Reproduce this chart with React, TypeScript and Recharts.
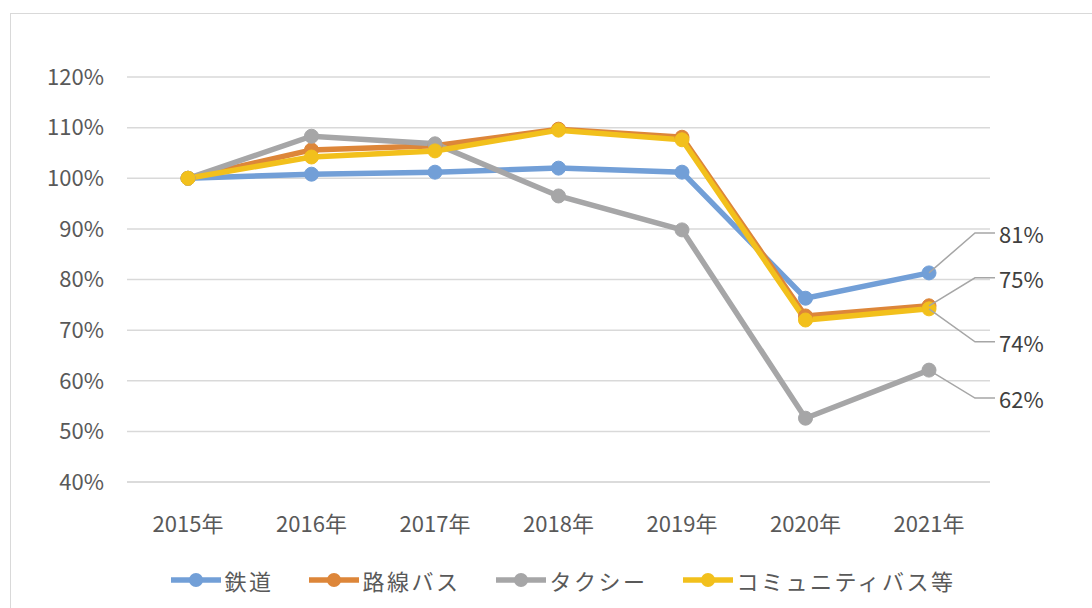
import { Line, LineChart, XAxis, YAxis, CartesianGrid, Legend } from "recharts"

const years = ["2015年", "2016年", "2017年", "2018年", "2019年", "2020年", "2021年"]
const rail = [100, 100.8, 101.2, 102.0, 101.2, 76.3, 81.3]
const routeBus = [100, 105.6, 106.4, 109.7, 108.1, 72.8, 74.8]
const taxi = [100, 108.3, 106.8, 96.5, 89.8, 52.6, 62.1]
const communityBus = [100, 104.2, 105.4, 109.5, 107.6, 72.0, 74.2]
const yTicks = [40, 50, 60, 70, 80, 90, 100, 110, 120]

const data = years.map((year, i) => ({
  year,
  rail: rail[i],
  routeBus: routeBus[i],
  taxi: taxi[i],
  communityBus: communityBus[i],
}))

const font = '"Noto Sans CJK JP", "Noto Sans", sans-serif'

// leader-line label for the last point of each series
function endLabel(dy: number) {
  return (props: any) => {
    const { x, y, value, index } = props
    if (index !== years.length - 1) return null
    const ex = x + 46
    const ey = y + dy
    return (
      <g>
        <polyline points={`${x},${y} ${ex},${ey} ${ex + 20},${ey}`} fill="none" stroke="#a6a6a6" strokeWidth={1.5} />
        <text x={ex + 24} y={ey} dominantBaseline="central" fontSize={22} fill="#404040" fontFamily={font}>
          {Math.round(value)}%
        </text>
      </g>
    )
  }
}

const series = [
  { key: "rail", name: "鉄道", color: "#729fd7", dy: -40 },
  { key: "routeBus", name: "路線バス", color: "#dd8639", dy: -28 },
  { key: "taxi", name: "タクシー", color: "#a6a6a7", dy: 28 },
  { key: "communityBus", name: "コミュニティバス等", color: "#f2c01c", dy: 33 },
]

function LegendBox() {
  return (
    <div style={{ display: "flex", justifyContent: "center", height: 30, alignItems: "center", fontFamily: font, paddingLeft: 127 }}>
      {series.map((s) => (
        <div key={s.key} style={{ display: "flex", alignItems: "center", margin: "0 18px" }}>
          <svg width={50} height={16}>
            <line x1={0} y1={8} x2={50} y2={8} stroke={s.color} strokeWidth={5.5} />
            <circle cx={25} cy={8} r={7} fill={s.color} />
          </svg>
          <span style={{ marginLeft: 3, fontSize: 22, color: "#595959", letterSpacing: 2.5 }}>{s.name}</span>
        </div>
      ))}
    </div>
  )
}

export default function App() {
  return (
    <div style={{ position: "absolute", left: 0, top: 0, width: 1092, height: 608, background: "#fff", overflow: "hidden" }}>
      <div style={{ position: "absolute", left: 10, top: 13, width: 1100, height: 620, border: "1.5px solid #d9d9d9" }} />
      <LineChart
        width={1092}
        height={608}
        data={data}
        margin={{ top: 77, right: 102, bottom: 13, left: 10 }}
        style={{ fontFamily: font }}
      >
        <CartesianGrid vertical={false} stroke="#d9d9d9" strokeWidth={1.5} />
        <XAxis
          dataKey="year"
          height={83}
          padding={{ left: 61, right: 61 }}
          tickLine={false}
          axisLine={{ stroke: "#d9d9d9", strokeWidth: 1.5 }}
          tickMargin={28}
          tick={{ fill: "#595959", fontSize: 22 }}
        />
        <YAxis
          width={117}
          domain={[40, 120]}
          ticks={yTicks}
          tickFormatter={(v) => `${v}%`}
          tickLine={false}
          axisLine={false}
          tickSize={0}
          tickMargin={23}
          tick={{ fill: "#595959", fontSize: 22 }}
        />
        <Legend verticalAlign="bottom" height={30} content={() => <LegendBox />} />
        {series.map((s) => (
          <Line
            key={s.key}
            type="linear"
            dataKey={s.key}
            name={s.name}
            stroke={s.color}
            strokeWidth={5.5}
            dot={{ r: 7, fill: s.color, stroke: s.color, strokeWidth: 1 }}
            label={endLabel(s.dy)}
            isAnimationActive={false}
          />
        ))}
      </LineChart>
    </div>
  )
}
